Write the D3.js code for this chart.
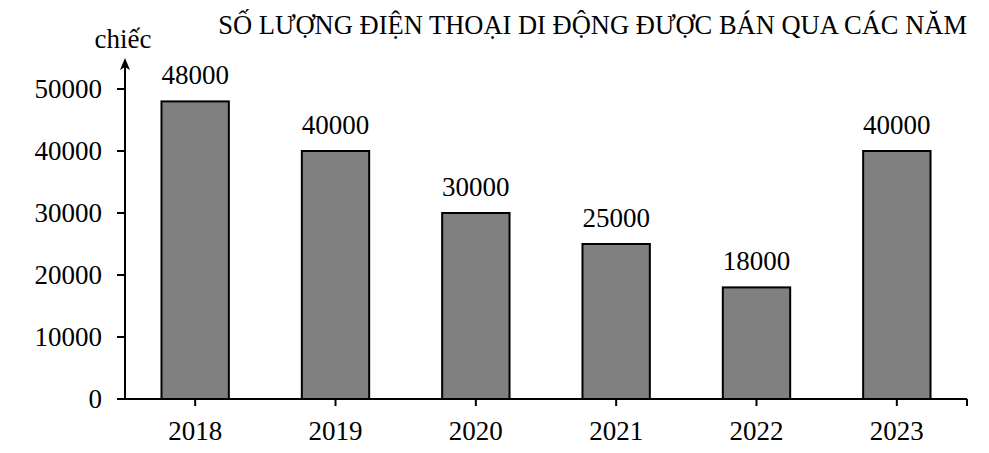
<!DOCTYPE html>
<html><head><meta charset="utf-8">
<script src="https://cdn.jsdelivr.net/npm/d3@7"></script>
<style>body{margin:0;background:#fff}svg{display:block}text{font-family:"Liberation Serif","Times New Roman",serif;fill:#000}</style>
</head><body>
<svg id="c" width="989" height="453"></svg>
<script>
const years = ["2018","2019","2020","2021","2022","2023"];
const sales = [48000,40000,30000,25000,18000,40000];
const yTicks = [0,10000,20000,30000,40000,50000];
const title = "SỐ LƯỢNG ĐIỆN THOẠI DI ĐỘNG ĐƯỢC BÁN QUA CÁC NĂM";
const unit = "chiếc";

const svg = d3.select("#c");
const x0 = 125, x1 = 967, yBase = 399;
const x = d3.scaleBand().domain(years).range([x0, x1]).paddingInner(0.52).paddingOuter(0.26);
const y = d3.scaleLinear().domain([0,50000]).range([yBase, 89]);

// title
svg.append("text").attr("x", 967).attr("y", 34).attr("text-anchor","end")
  .style("font-size","26.5px").text(title);
// unit
svg.append("text").attr("x", 123).attr("y", 48).attr("text-anchor","middle")
  .style("font-size","27px").text(unit);

// bars
svg.selectAll("rect.bar").data(sales).join("rect").attr("class","bar")
  .attr("x",(d,i)=>x(years[i])).attr("width",x.bandwidth())
  .attr("y",d=>y(d)).attr("height",d=>yBase-y(d))
  .attr("fill","#808080").attr("stroke","#000").attr("stroke-width",2);

// value labels
svg.selectAll("text.val").data(sales).join("text").attr("class","val")
  .attr("x",(d,i)=>x(years[i])+x.bandwidth()/2).attr("y",d=>y(d)-17)
  .attr("text-anchor","middle").style("font-size","27px").text(d=>d);

// y axis
const ya = svg.append("g");
ya.selectAll("line.t").data(yTicks).join("line").attr("class","t")
  .attr("x1",117).attr("x2",125).attr("y1",d=>y(d)).attr("y2",d=>y(d))
  .attr("stroke","#000").attr("stroke-width",2);
ya.selectAll("text").data(yTicks).join("text")
  .attr("x",102).attr("y",d=>y(d)+9).attr("text-anchor","end")
  .style("font-size","27px").text(d=>d);
ya.append("line").attr("x1",125).attr("x2",125).attr("y1",yBase).attr("y2",64)
  .attr("stroke","#000").attr("stroke-width",2);
ya.append("path").attr("d","M125,58 L120,70 L125,67 L130,70 Z").attr("fill","#000");

// x axis
const xa = svg.append("g");
xa.append("line").attr("x1",117).attr("x2",x1).attr("y1",yBase).attr("y2",yBase)
  .attr("stroke","#000").attr("stroke-width",2);
const xt = years.map(d=>x(d)+x.bandwidth()/2).concat([x1]);
xa.selectAll("line.t").data(xt).join("line").attr("class","t")
  .attr("x1",d=>d).attr("x2",d=>d).attr("y1",yBase).attr("y2",yBase+7)
  .attr("stroke","#000").attr("stroke-width",2);
xa.selectAll("text").data(years).join("text")
  .attr("x",d=>x(d)+x.bandwidth()/2).attr("y",440).attr("text-anchor","middle")
  .style("font-size","27px").text(d=>d);
</script>
</body></html>
